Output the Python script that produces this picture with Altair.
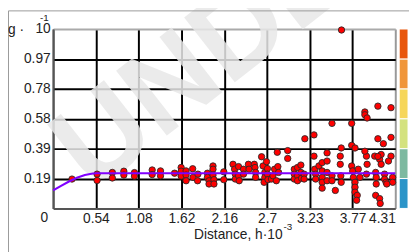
import altair as alt
import pandas as pd

# ---- data ----
pts_x = [0.238, 0.554, 0.554, 0.746, 0.746, 0.891, 0.891, 1.025, 1.025, 1.248,
         1.248, 1.353, 1.353, 1.530, 1.613, 1.613, 1.613, 1.675, 1.675, 1.675,
         1.758, 1.762, 1.820, 1.824, 1.944, 1.944, 1.964, 1.964, 2.014, 2.014,
         2.014, 2.026, 2.026, 2.150, 2.150, 2.266, 2.286, 2.295, 2.295, 2.336,
         2.336, 2.344, 2.398, 2.398, 2.460, 2.468, 2.534, 2.543, 2.551, 2.551,
         2.626, 2.645, 2.667, 2.667, 2.658, 2.688, 2.700, 2.700, 2.707, 2.750,
         2.769, 2.790, 2.812, 2.824, 2.831, 2.840, 2.955, 2.955, 3.038, 3.038,
         3.038, 3.079, 3.079, 3.079, 3.121, 3.121, 3.129, 3.162, 3.162, 3.171,
         3.286, 3.286, 3.295, 3.307, 3.307, 3.348, 3.389, 3.389, 3.389, 3.389,
         3.389, 3.451, 3.451, 3.451, 3.451, 3.513, 3.513, 3.555, 3.513, 3.617,
         3.617, 3.624, 3.629, 3.629, 3.761, 3.761, 3.803, 3.761, 3.773, 3.782,
         3.803, 3.803, 3.803, 3.831, 3.823, 3.865, 3.844, 3.927, 3.927, 3.955,
         3.947, 3.955, 3.947, 3.927, 4.091, 4.256, 4.091, 4.160, 4.256, 4.051,
         4.113, 4.132, 4.063, 4.070, 4.070, 4.063, 4.113, 4.120, 4.175, 4.175,
         4.194, 4.256, 4.277, 4.277, 4.203, 4.224, 4.132, 4.091, 3.633]
pts_y = [0.191, 0.223, 0.182, 0.234, 0.198, 0.242, 0.217, 0.233, 0.210, 0.250,
         0.220, 0.244, 0.212, 0.229, 0.266, 0.242, 0.210, 0.244, 0.217, 0.180,
         0.258, 0.202, 0.180, 0.223, 0.229, 0.202, 0.180, 0.159, 0.276, 0.255,
         0.217, 0.187, 0.159, 0.238, 0.187, 0.287, 0.255, 0.223, 0.191, 0.272,
         0.212, 0.180, 0.255, 0.223, 0.287, 0.255, 0.287, 0.266, 0.234, 0.202,
         0.336, 0.276, 0.234, 0.202, 0.170, 0.304, 0.259, 0.223, 0.187, 0.191,
         0.212, 0.255, 0.180, 0.365, 0.272, 0.234, 0.376, 0.325, 0.255, 0.223,
         0.191, 0.266, 0.212, 0.180, 0.282, 0.234, 0.196, 0.223, 0.191, 0.453,
         0.478, 0.340, 0.255, 0.223, 0.191, 0.276, 0.298, 0.244, 0.202, 0.170,
         0.132, 0.361, 0.308, 0.234, 0.180, 0.212, 0.180, 0.117, 0.553, 0.340,
         0.287, 0.212, 0.170, 0.393, 0.553, 0.410, 0.393, 0.276, 0.244, 0.202,
         0.170, 0.138, 0.106, 0.085, 0.053, 0.202, 0.255, 0.627, 0.609, 0.588,
         0.340, 0.287, 0.223, 0.372, 0.665, 0.655, 0.453, 0.421, 0.462, 0.340,
         0.319, 0.287, 0.234, 0.202, 0.159, 0.085, 0.064, 0.032, 0.223, 0.191,
         0.170, 0.340, 0.202, 0.170, 0.159, 0.308, 0.351, 0.338, 1.160]

model_x = [0, 0.1, 0.2, 0.3, 0.4, 0.5, 0.55, 4.31]
model_y = [0.117, 0.147, 0.175, 0.199, 0.217, 0.227, 0.229, 0.229]

x_ticks = [0, 0.539, 1.078, 1.617, 2.156, 2.695, 3.233, 3.772, 4.31]
x_labels = ["", "0.54", "1.08", "1.62", "2.16", "2.7", "3.23", "3.77", "4.31"]
y_ticks = [0.1944, 0.3888, 0.5832, 0.7776, 0.972, 1.1664]
y_labels = ["0.19", "0.39", "0.58", "0.78", "0.97", "10"]

band_lo = [0.0, 0.1944, 0.3888, 0.5832, 0.7776, 0.972]
band_hi = [0.1944, 0.3888, 0.5832, 0.7776, 0.972, 1.1664]
band_color = ["#2b94c8", "#7db9a0", "#d4e27f", "#f6d65a", "#f0963a", "#e8560c"]

FONT = "Liberation Sans"
W, H = 349, 183

pts = pd.DataFrame({"x": pts_x, "y": pts_y})
model = pd.DataFrame({"x": model_x, "y": model_y})
bands = pd.DataFrame({"lo": band_lo, "hi": band_hi, "c": band_color})
one = pd.DataFrame({"a": [0]})

def js_list(v):
    return "[" + ",".join(repr(e) if isinstance(e, str) else str(e) for e in v) + "]"

xs = alt.Scale(domain=[0, 4.31], nice=False, zero=False)
ys = alt.Scale(domain=[0, 1.1664], nice=False)

x_axis = alt.Axis(
    values=x_ticks, tickCount=30,
    labelExpr=f"{js_list(x_labels)}[indexof({js_list(x_ticks)}, datum.value)]",
    grid=True, gridColor={"condition": [{"test": "datum.value > 4.3", "value": "#999999"},
                                        {"test": "datum.value == 0", "value": "#555555"}],
                          "value": "black"},
    gridWidth=2, ticks=False, domainColor="#555555", domainWidth=2,
    labelFont=FONT, labelFontSize=14, labelColor="#222222", labelPadding=3,
    labelOverlap=False, title=None,
)
y_axis = alt.Axis(
    values=y_ticks, tickCount=30,
    labelExpr=f"{js_list(y_labels)}[indexof({js_list(y_ticks)}, datum.value)]",
    grid=True, gridColor={"condition": {"test": "datum.value > 1.1", "value": "#aaaaaa"},
                          "value": "black"},
    gridWidth=2, ticks=False, domainColor="#555555", domainWidth=2,
    labelFont=FONT, labelFontSize=14, labelColor="#222222", labelPadding=3,
    labelOverlap=False, title=None,
)

watermark = alt.Chart(one).mark_text(
    text="UNDER", font=FONT, fontSize=122, fontWeight="bold", angle=322,
    align="left", baseline="alphabetic", color="#e8e8e8", opacity=0.85,
).encode(x=alt.value(40), y=alt.value(168))

frame = alt.Chart(one).mark_rule(color="#999999", strokeWidth=1).encode(
    x=alt.value(-45.5), x2=alt.value(-45.5), y=alt.value(-18.5), y2=alt.value(230))
frame_top = alt.Chart(one).mark_rule(color="#999999", strokeWidth=1).encode(
    x=alt.value(-45.5), x2=alt.value(370), y=alt.value(-18.5))

base = alt.Chart(pts).mark_point(opacity=0).encode(
    x=alt.X("x:Q", scale=xs, axis=x_axis),
    y=alt.Y("y:Q", scale=ys, axis=y_axis),
)

colorbar = alt.Chart(bands).mark_rect(stroke="white", strokeWidth=1).encode(
    x=alt.value(353), x2=alt.value(362),
    y=alt.Y("lo:Q", scale=ys, axis=y_axis), y2="hi:Q",
    color=alt.Color("c:N", scale=None),
)

points = alt.Chart(pts).mark_circle(
    size=42, color="#ff0000", opacity=1, stroke="#2a2a2a", strokeWidth=0.9
).encode(x=alt.X("x:Q", scale=xs, axis=x_axis), y=alt.Y("y:Q", scale=ys, axis=y_axis))

line = alt.Chart(model).mark_line(color="#8000ff", strokeWidth=2.2).encode(
    x=alt.X("x:Q", scale=xs, axis=x_axis), y=alt.Y("y:Q", scale=ys, axis=y_axis))

zero_lbl = alt.Chart(one).mark_text(
    text="0", font=FONT, fontSize=14, color="#222222", baseline="top", dx=-9
).encode(x=alt.datum(0, scale=xs, axis=x_axis), y=alt.value(H + 3))

g_lbl = alt.Chart(one).mark_text(
    text="g ·", font=FONT, fontSize=14, color="#222222", align="left", baseline="middle"
).encode(x=alt.value(-46), y=alt.value(1))
sup1 = alt.Chart(one).mark_text(
    text="-1", font=FONT, fontSize=10, color="#222222", align="center", baseline="middle"
).encode(x=alt.value(-9), y=alt.value(-11))

xtitle = alt.Chart(one).mark_text(
    text="Distance, h·10", font=FONT, fontSize=14, color="#222222",
    align="right", baseline="alphabetic"
).encode(x=alt.value(234), y=alt.value(214))
sup3 = alt.Chart(one).mark_text(
    text="-3", font=FONT, fontSize=10, color="#222222", align="left", baseline="middle"
).encode(x=alt.value(235), y=alt.value(202))

chart = alt.layer(
    watermark, frame, frame_top, base, colorbar, points, line,
    zero_lbl, g_lbl, sup1, xtitle, sup3,
).properties(
    width=W, height=H,
    autosize=alt.AutoSizeParams(type="none"),
    padding={"left": 46, "top": 19, "right": 14, "bottom": 42},
).configure_view(stroke="#999999", strokeWidth=1.5).configure(background="white")

chart.save("out.html", embed_options={"renderer": "svg", "actions": False})
